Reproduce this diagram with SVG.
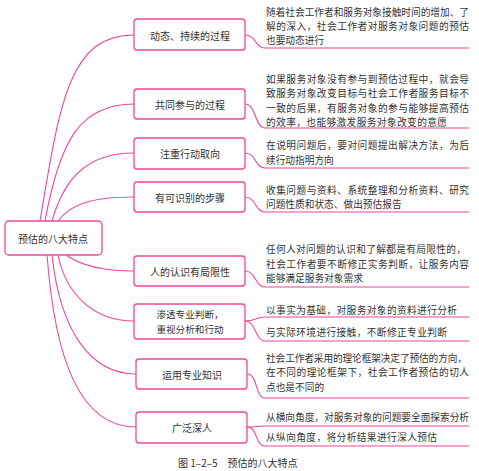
<svg xmlns="http://www.w3.org/2000/svg" width="479" height="471" viewBox="0 0 479 471">
<style>
.n{fill:#fff;stroke:#f0479a;stroke-width:1.3}
.c{fill:none;stroke:#f0479a;stroke-width:1.1}
.t{font-family:"Noto Sans CJK SC","Liberation Sans",sans-serif;font-size:10px;fill:#333;text-anchor:middle;dominant-baseline:central}
.d{font-family:"Noto Sans CJK SC","Liberation Sans",sans-serif;font-size:9.7px;fill:#333;dominant-baseline:central}
.cap{font-family:"Noto Sans CJK SC","Liberation Sans",sans-serif;font-size:10px;fill:#333}
</style>
<rect width="479" height="471" fill="#fff"/>
<g id="connectors">
<path class="c" d="M40,221 C60,100 70,35 134,35"/>
<path class="c" d="M45,221 C60,140 80,104 134,104"/>
<path class="c" d="M52,221 C65,175 90,153 134,153"/>
<path class="c" d="M58,221 C70,205 90,197 134,197"/>
<path class="c" d="M66,255 C80,265 100,271 134,271"/>
<path class="c" d="M58,255 C65,290 90,321 134,321"/>
<path class="c" d="M52,255 C60,330 90,374 136,374"/>
<path class="c" d="M47,255 C55,360 80,427 136,427"/>
<path class="c" d="M245,35 C256,35 255,48 265,48 L469,48"/>
<path class="c" d="M245,104 C256,104 255,128 265,128 L469,128"/>
<path class="c" d="M245,153 C256,153 255,168 265,168 L469,168"/>
<path class="c" d="M245,197 C256,197 255,212 265,212 L469,212"/>
<path class="c" d="M245,271 C256,271 255,287 265,287 L469,287"/>
<path class="c" d="M245,321 C256,321 255,317 265,317 L469,317"/>
<path class="c" d="M245,321 C256,321 255,341 265,341 L469,341"/>
<path class="c" d="M247,374 C258,374 255,398 265,398 L469,398"/>
<path class="c" d="M247,427 C258,427 255,426 265,426 L469,426"/>
<path class="c" d="M247,427 C258,427 255,446 265,446 L469,446"/>
</g>
<g id="root"><rect class="n" x="5" y="221" width="97" height="34" rx="4"/><text class="t" x="53" y="238">预估的八大特点</text></g>
<g id="n1"><rect class="n" x="134" y="19" width="111" height="31" rx="3"/><text class="t" x="190" y="35">动态、持续的过程</text></g>
<g id="n2"><rect class="n" x="134" y="89" width="111" height="30" rx="3"/><text class="t" x="190" y="104">共同参与的过程</text></g>
<g id="n3"><rect class="n" x="134" y="138" width="111" height="31" rx="3"/><text class="t" x="190" y="153">注重行动取向</text></g>
<g id="n4"><rect class="n" x="134" y="182" width="111" height="30" rx="3"/><text class="t" x="190" y="197">有可识别的步骤</text></g>
<g id="n5"><rect class="n" x="134" y="256" width="111" height="30" rx="3"/><text class="t" x="190" y="271">人的认识有局限性</text></g>
<g id="n6"><rect class="n" x="134" y="304" width="111" height="35" rx="3"/><text class="t" x="190" y="314" style="font-size:9.6px">渗透专业判断，</text><text class="t" x="190" y="329" style="font-size:9.6px">重视分析和行动</text></g>
<g id="n7"><rect class="n" x="136" y="359" width="111" height="30" rx="3"/><text class="t" x="192" y="374">运用专业知识</text></g>
<g id="n8"><rect class="n" x="136" y="412" width="111" height="31" rx="3"/><text class="t" x="192" y="427">广泛深人</text></g>
<g id="texts">
<text class="d" x="266" y="12" textLength="203" lengthAdjust="spacing">随着社会工作者和服务对象接触时间的增加、了</text>
<text class="d" x="266" y="26" textLength="203" lengthAdjust="spacing">解的深入，社会工作者对服务对象问题的预估</text>
<text class="d" x="266" y="40">也要动态进行</text>
<text class="d" x="266" y="79" textLength="203" lengthAdjust="spacing">如果服务对象没有参与到预估过程中，就会导</text>
<text class="d" x="266" y="93" textLength="203" lengthAdjust="spacing">致服务对象改变目标与社会工作者服务目标不</text>
<text class="d" x="266" y="108" textLength="203" lengthAdjust="spacing">一致的后果，有服务对象的参与能够提高预估</text>
<text class="d" x="266" y="122" textLength="181" lengthAdjust="spacing">的效率，也能够激发服务对象改变的意愿</text>
<text class="d" x="266" y="145" textLength="203" lengthAdjust="spacing">在说明问题后，要对问题提出解决方法，为后</text>
<text class="d" x="266" y="160">续行动指明方向</text>
<text class="d" x="266" y="190" textLength="203" lengthAdjust="spacing">收集问题与资料、系统整理和分析资料、研究</text>
<text class="d" x="266" y="204">问题性质和状态、做出预估报告</text>
<text class="d" x="266" y="249" textLength="200" lengthAdjust="spacing">任何人对问题的认识和了解都是有局限性的，</text>
<text class="d" x="266" y="264" textLength="203" lengthAdjust="spacing">社会工作者要不断修正实务判断，让服务内容</text>
<text class="d" x="266" y="278">能够满足服务对象需求</text>
<text class="d" x="266" y="310" textLength="191" lengthAdjust="spacing">以事实为基础，对服务对象的资料进行分析</text>
<text class="d" x="266" y="332" textLength="181" lengthAdjust="spacing">与实际环境进行接触，不断修正专业判断</text>
<text class="d" x="266" y="358" textLength="201" lengthAdjust="spacing">社会工作者采用的理论框架决定了预估的方向，</text>
<text class="d" x="266" y="372" textLength="203" lengthAdjust="spacing">在不同的理论框架下，社会工作者预估的切人</text>
<text class="d" x="266" y="387">点也是不同的</text>
<text class="d" x="266" y="417" textLength="203" lengthAdjust="spacing">从横向角度，对服务对象的问题要全面探索分析</text>
<text class="d" x="266" y="437" textLength="171" lengthAdjust="spacing">从纵向角度，将分析结果进行深人预估</text>
</g>
<text class="cap" x="178" y="467">图 1–2–5　预估的八大特点</text>
</svg>
